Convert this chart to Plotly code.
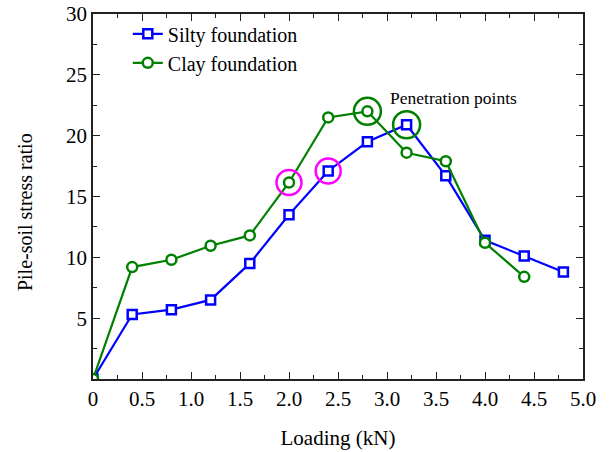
import plotly.graph_objects as go

# Loading steps (kN) and measured pile-soil stress ratios
load_silty = [0, 0.4, 0.8, 1.2, 1.6, 2.0, 2.4, 2.8, 3.2, 3.6, 4.0, 4.4, 4.8]
ratio_silty = [0, 5.3, 5.7, 6.5, 9.5, 13.5, 17.1, 19.5, 20.9, 16.7, 11.4, 10.1, 8.8]

load_clay = [0, 0.4, 0.8, 1.2, 1.6, 2.0, 2.4, 2.8, 3.2, 3.6, 4.0, 4.4]
ratio_clay = [0, 9.2, 9.8, 10.95, 11.8, 16.15, 21.5, 22.0, 18.6, 17.9, 11.2, 8.4]

# Highlighted points: onset (magenta) and penetration (green)
onset_x = [2.0, 2.4]
onset_y = [16.15, 17.1]
pen_x = [2.8, 3.2]
pen_y = [22.0, 20.9]

x_ticks = [0, 0.5, 1.0, 1.5, 2.0, 2.5, 3.0, 3.5, 4.0, 4.5, 5.0]
x_tick_text = ["0", "0.5", "1.0", "1.5", "2.0", "2.5", "3.0", "3.5", "4.0", "4.5", "5.0"]
y_ticks = [5, 10, 15, 20, 25, 30]

FONT = "Liberation Serif"
BLUE = "#0000FF"
GREEN = "#008000"
MAGENTA = "#FF00FF"
AXIS_COLOR = "#222222"

fig = go.Figure()

fig.add_trace(go.Scatter(
    x=load_silty, y=ratio_silty, name="Silty foundation",
    mode="lines+markers",
    line=dict(color=BLUE, width=2.2),
    marker=dict(symbol="square", size=9, color="white", line=dict(width=2.5, color=BLUE)),
))
fig.add_trace(go.Scatter(
    x=load_clay, y=ratio_clay, name="Clay foundation",
    mode="lines+markers",
    line=dict(color=GREEN, width=2.2),
    marker=dict(symbol="circle", size=10, color="white", line=dict(width=2.5, color=GREEN)),
))
fig.add_trace(go.Scatter(
    x=onset_x, y=onset_y, mode="markers", showlegend=False, hoverinfo="skip",
    marker=dict(symbol="circle-open", size=25, color=MAGENTA, line=dict(width=2.5, color=MAGENTA)),
))
fig.add_trace(go.Scatter(
    x=pen_x, y=pen_y, mode="markers", showlegend=False, hoverinfo="skip",
    marker=dict(symbol="circle-open", size=27, color=GREEN, line=dict(width=2.5, color=GREEN)),
))

fig.add_annotation(
    x=3.68, y=23.1, text="Penetration points", showarrow=False,
    font=dict(family=FONT, size=17.5, color="black"),
)

# y-axis title placed as a rotated annotation
fig.add_annotation(
    xref="paper", yref="paper", x=-0.139, y=0.457,
    xanchor="center", yanchor="middle",
    text="Pile-soil stress ratio", textangle=-90, showarrow=False,
    font=dict(family=FONT, size=20, color="black"),
)

axis_common = dict(
    showline=True, linecolor=AXIS_COLOR, linewidth=1.5, mirror="allticks",
    ticks="inside", tickcolor=AXIS_COLOR, tickwidth=1.2,
    showgrid=False, zeroline=False, automargin=False,
    tickfont=dict(family=FONT, size=21, color="black"),
)

fig.update_xaxes(
    range=[0, 5], tickvals=x_ticks, ticktext=x_tick_text, ticklen=7,
    minor=dict(dtick=0.25, ticks="inside", ticklen=4, tickcolor=AXIS_COLOR, tickwidth=1.2),
    title=dict(text="Loading (kN)", font=dict(family=FONT, size=21, color="black"), standoff=20),
    **axis_common,
)
fig.update_yaxes(
    range=[0, 30], tickvals=y_ticks, ticklen=7,
    minor=dict(dtick=2.5, ticks="inside", ticklen=4, tickcolor=AXIS_COLOR, tickwidth=1.2),
    **axis_common,
)

fig.update_layout(
    width=611, height=452,
    margin=dict(l=93, r=28, t=14, b=73),
    paper_bgcolor="white", plot_bgcolor="white",
    showlegend=True,
    legend=dict(
        x=0.071, y=0.999, xanchor="left", yanchor="top",
        bgcolor="rgba(0,0,0,0)", borderwidth=0,
        font=dict(family=FONT, size=20, color="black"),
        tracegroupgap=0, itemwidth=30,
    ),
)

fig.write_html("out.html")
